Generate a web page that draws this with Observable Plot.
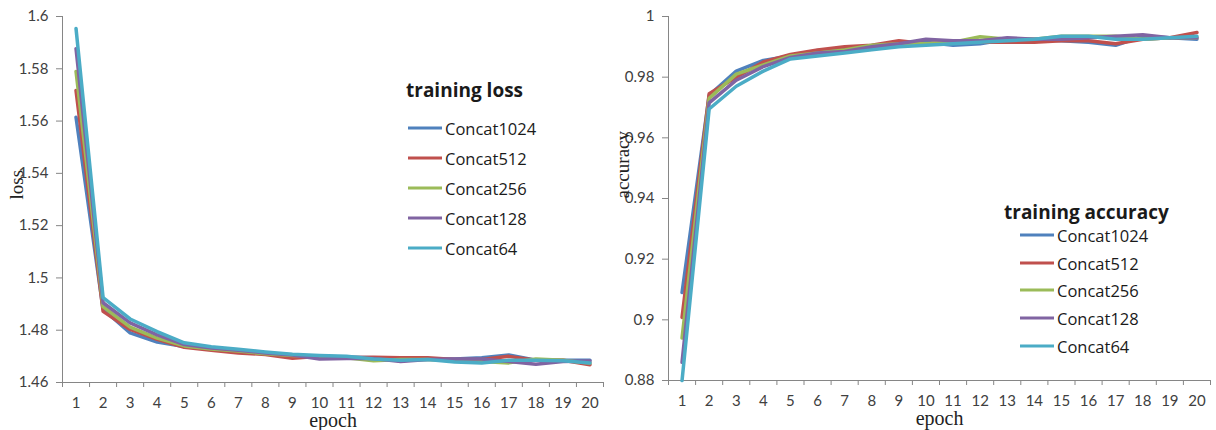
<!DOCTYPE html>
<html>
<head>
<meta charset="utf-8">
<script src="https://cdn.jsdelivr.net/npm/d3@7"></script>
<script src="https://cdn.jsdelivr.net/npm/@observablehq/plot@0.6"></script>
<style>
  html, body { margin: 0; padding: 0; background: #fff; }
  #wrap { position: relative; width: 1216px; height: 430px; display: flex; }
  .legend { position: absolute; font-family: "Open Sans", sans-serif; color: #1a1a1a; }
  .legend .title { position: absolute; font-weight: bold; font-size: 19px; white-space: nowrap; transform: translateY(-50%); }
  .legend .item { position: absolute; white-space: nowrap; font-size: 16.5px; transform: translateY(-50%); display: flex; align-items: center; }
  .legend .sw { display: inline-block; width: 34px; height: 3px; margin-right: 3px; }
</style>
</head>
<body>
<div id="wrap"></div>
<script>
const epochs = [1,2,3,4,5,6,7,8,9,10,11,12,13,14,15,16,17,18,19,20];
const seriesNames = ["Concat1024", "Concat512", "Concat256", "Concat128", "Concat64"];
const seriesColors = ["#4F81BD", "#C0504D", "#9BBB59", "#8064A2", "#4BACC6"];

const loss1024 = [1.5615, 1.4880, 1.4790, 1.4755, 1.4738, 1.4728, 1.4718, 1.4710, 1.4703, 1.4700, 1.4698, 1.4695, 1.4683, 1.4690, 1.4690, 1.4695, 1.4705, 1.4685, 1.4685, 1.4685];
const loss512  = [1.5717, 1.4872, 1.4803, 1.4765, 1.4735, 1.4723, 1.4713, 1.4707, 1.4693, 1.4700, 1.4695, 1.4697, 1.4695, 1.4695, 1.4688, 1.4688, 1.4700, 1.4685, 1.4685, 1.4668];
const loss256  = [1.5790, 1.4890, 1.4812, 1.4770, 1.4740, 1.4728, 1.4720, 1.4710, 1.4703, 1.4700, 1.4695, 1.4683, 1.4688, 1.4688, 1.4683, 1.4680, 1.4675, 1.4690, 1.4685, 1.4675];
const loss128  = [1.5877, 1.4905, 1.4828, 1.4782, 1.4745, 1.4732, 1.4723, 1.4713, 1.4705, 1.4690, 1.4692, 1.4692, 1.4680, 1.4688, 1.4690, 1.4690, 1.4680, 1.4670, 1.4680, 1.4682];
const loss64   = [1.5954, 1.4925, 1.4843, 1.4795, 1.4752, 1.4737, 1.4727, 1.4717, 1.4708, 1.4703, 1.4700, 1.4690, 1.4685, 1.4688, 1.4678, 1.4675, 1.4685, 1.4685, 1.4683, 1.4675];

const acc1024 = [0.9090, 0.9740, 0.9820, 0.9855, 0.9870, 0.9888, 0.9895, 0.9895, 0.9905, 0.9915, 0.9905, 0.9910, 0.9925, 0.9925, 0.9920, 0.9915, 0.9905, 0.9935, 0.9930, 0.9925];
const acc512  = [0.9008, 0.9745, 0.9800, 0.9850, 0.9875, 0.9890, 0.9900, 0.9905, 0.9920, 0.9910, 0.9915, 0.9915, 0.9915, 0.9915, 0.9920, 0.9920, 0.9910, 0.9925, 0.9930, 0.9947];
const acc256  = [0.8940, 0.9730, 0.9810, 0.9840, 0.9870, 0.9880, 0.9890, 0.9905, 0.9910, 0.9910, 0.9915, 0.9933, 0.9925, 0.9925, 0.9935, 0.9935, 0.9935, 0.9925, 0.9930, 0.9930];
const acc128  = [0.8860, 0.9715, 0.9790, 0.9835, 0.9865, 0.9880, 0.9885, 0.9900, 0.9910, 0.9925, 0.9920, 0.9920, 0.9930, 0.9925, 0.9925, 0.9930, 0.9935, 0.9940, 0.9930, 0.9930];
const acc64   = [0.8800, 0.9695, 0.9770, 0.9820, 0.9860, 0.9870, 0.9880, 0.9890, 0.9900, 0.9905, 0.9910, 0.9915, 0.9920, 0.9925, 0.9935, 0.9935, 0.9925, 0.9925, 0.9930, 0.9935];

const lossTicks = [1.46, 1.48, 1.5, 1.52, 1.54, 1.56, 1.58, 1.6];
const accTicks = [0.88, 0.9, 0.92, 0.94, 0.96, 0.98, 1];
const bandEdges = [0.5,1.5,2.5,3.5,4.5,5.5,6.5,7.5,8.5,9.5,10.5,11.5,12.5,13.5,14.5,15.5,16.5,17.5,18.5,19.5,20.5];

const lossSeries = [loss1024, loss512, loss256, loss128, loss64];
const accSeries = [acc1024, acc512, acc256, acc128, acc64];

function toRows(seriesArr) {
  const rows = [];
  seriesArr.forEach((vals, i) => {
    vals.forEach((v, j) => rows.push({series: seriesNames[i], epoch: epochs[j], value: v}));
  });
  return rows;
}

const axisColor = "#868686";
const fmt = d => String(+d.toFixed(2));

function makeChart(rows, yDomain, yTicks, yLabel, opts) {
  return Plot.plot({
    width: opts.width,
    height: 430,
    marginLeft: opts.marginLeft,
    marginRight: opts.marginRight,
    marginTop: 16,
    marginBottom: opts.marginBottom,
    style: {fontFamily: "Lato, sans-serif", fontSize: "15px", color: "#404040", background: "#fff"},
    x: {domain: [0.5, 20.5]},
    y: {domain: yDomain},
    color: {domain: seriesNames, range: seriesColors},
    marks: [
      Plot.axisY({ticks: yTicks, tickFormat: fmt, tickSize: 6, tickPadding: 8, stroke: axisColor, label: null}),
      Plot.axisX({ticks: bandEdges, tickFormat: () => "", tickSize: 5, stroke: axisColor, label: null}),
      Plot.axisX({ticks: epochs, tickFormat: d => String(d), tickSize: 0, tickPadding: 15, label: null}),
      Plot.ruleX([0.5], {stroke: axisColor}),
      Plot.ruleY([yDomain[0]], {stroke: axisColor}),
      Plot.line(rows, {x: "epoch", y: "value", z: "series", stroke: "series", strokeWidth: 3.5, strokeLinejoin: "round"}),
      Plot.text(["epoch"], {frameAnchor: "bottom", text: d => d, dy: 44, fontFamily: "Liberation Serif, serif", fontSize: 20, fill: "#222"}),
      Plot.text([yLabel], {frameAnchor: "left", text: d => d, rotate: -90, dx: -46, fontFamily: "Liberation Serif, serif", fontSize: 19, fill: "#222"})
    ]
  });
}

const wrap = document.getElementById("wrap");
const left = makeChart(toRows(lossSeries), [1.46, 1.6], lossTicks, "loss", {width: 608, marginLeft: 62, marginRight: 5, marginBottom: 48});
const right = makeChart(toRows(accSeries), [0.88, 1], accTicks, "accuracy", {width: 608, marginLeft: 60, marginRight: 6, marginBottom: 50});
wrap.appendChild(left);
wrap.appendChild(right);

function addLegend(title, titleX, titleY, lineX, textYs) {
  const lg = document.createElement("div");
  lg.className = "legend";
  lg.style.left = "0px"; lg.style.top = "0px";
  const t = document.createElement("div");
  t.className = "title";
  t.textContent = title;
  t.style.left = titleX + "px"; t.style.top = titleY + "px";
  lg.appendChild(t);
  seriesNames.forEach((name, i) => {
    const it = document.createElement("div");
    it.className = "item";
    it.style.left = lineX + "px"; it.style.top = textYs[i] + "px";
    const sw = document.createElement("span");
    sw.className = "sw";
    sw.style.background = seriesColors[i];
    it.appendChild(sw);
    const tx = document.createElement("span");
    tx.textContent = name;
    it.appendChild(tx);
    lg.appendChild(it);
  });
  wrap.appendChild(lg);
}
addLegend("training loss", 406, 90, 408, [128, 158, 188, 218, 248]);
addLegend("training accuracy", 1004, 212, 1020, [235, 263, 290, 318, 346]);
</script>
</body>
</html>
